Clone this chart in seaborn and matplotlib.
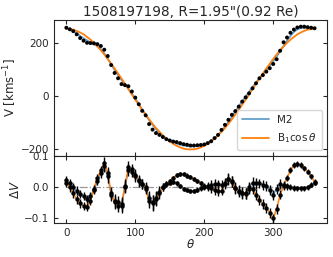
import numpy as np
import pandas as pd
import matplotlib
matplotlib.use("Agg")
import matplotlib.pyplot as plt
import seaborn as sns

# position angle grid (deg)
theta = [0, 5, 10, 15, 20, 25, 30, 35, 40, 45,
         50, 55, 60, 65, 70, 75, 80, 85, 90, 95,
         100, 105, 110, 115, 120, 125, 130, 135, 140, 145,
         150, 155, 160, 165, 170, 175, 180, 185, 190, 195,
         200, 205, 210, 215, 220, 225, 230, 235, 240, 245,
         250, 255, 260, 265, 270, 275, 280, 285, 290, 295,
         300, 305, 310, 315, 320, 325, 330, 335, 340, 345,
         350, 355, 360]

# observed velocity along the ring
v_obs = [259, 253, 246, 234, 220, 210, 202, 201, 200, 197,
         190, 176, 152, 118, 88, 68, 46, 42, 38, 18,
         -5, -30, -55, -72, -105, -126, -139, -146, -154, -162,
         -167, -171, -173, -177, -181, -183, -186, -186, -185, -184,
         -182, -177, -170, -158, -146, -127, -108, -89, -70, -56,
         -39, -20, -4, 11, 30, 49, 68, 80, 93, 106,
         122, 140, 172, 204, 222, 240, 252, 260, 263, 263,
         261, 259, 257]

# model curves
v_m2 = [257, 252, 246, 238, 228, 219, 211, 204, 197, 189,
        178, 162, 142, 120, 99, 80, 62, 45, 28, 10,
        -9, -29, -50, -70, -90, -108, -124, -138, -150, -160,
        -168, -174, -179, -183, -186, -188, -189, -189, -188, -186,
        -182, -176, -168, -158, -146, -131, -115, -97, -78, -58,
        -38, -19, -1, 17, 35, 52, 68, 84, 99, 115,
        132, 150, 170, 190, 210, 228, 243, 253, 258, 259,
        259, 258, 257]

v_b1 = [255, 254, 252, 247, 241, 234, 224, 214, 202, 188,
        174, 158, 141, 123, 105, 86, 67, 47, 27, 7,
        -13, -32, -51, -69, -87, -104, -120, -134, -148, -160,
        -170, -180, -187, -193, -198, -200, -201, -200, -198, -193,
        -187, -180, -170, -160, -148, -134, -120, -104, -87, -69,
        -51, -32, -13, 7, 27, 47, 67, 86, 105, 123,
        141, 158, 174, 188, 202, 214, 224, 234, 241, 247,
        252, 254, 255]

# residuals
dv_m2 = [0.023, 0.012, 0.0, -0.012, -0.022, -0.03, -0.038, -0.03, -0.01, 0.02,
         0.045, 0.068, 0.035, -0.025, -0.045, -0.05, -0.055, 0.0, 0.055, 0.05,
         0.035, 0.02, 0.01, 0.0, -0.035, -0.05, -0.035, -0.015, 0.0, 0.01,
         0.015, 0.017, 0.012, 0.003, -0.005, -0.01, -0.013, -0.012, -0.008, -0.003,
         0.0, 0.003, 0.007, 0.01, 0.009, 0.007, 0.015, 0.025, 0.02, -0.002,
         -0.012, -0.018, -0.02, 0.0, 0.015, 0.012, 0.012, 0.008, 0.004, -0.01,
         -0.025, -0.005, 0.01, 0.006, 0.003, 0.0, -0.002, -0.004, -0.004, -0.003,
         0.0, 0.008, 0.015]

dv_b1 = [0.015, 0.0, -0.02, -0.04, -0.053, -0.062, -0.064, -0.045, -0.005, 0.03,
         0.055, 0.08, 0.045, -0.02, -0.05, -0.06, -0.062, 0.005, 0.065, 0.058,
         0.04, 0.022, 0.01, -0.005, -0.045, -0.052, -0.038, -0.02, 0.0, 0.01,
         0.02, 0.03, 0.04, 0.043, 0.042, 0.038, 0.032, 0.027, 0.02, 0.012,
         0.005, 0.0, -0.004, -0.009, -0.014, -0.012, 0.01, 0.027, 0.018, -0.003,
         -0.015, -0.02, -0.022, -0.005, -0.005, -0.025, -0.043, -0.055, -0.068, -0.083,
         -0.102, -0.07, -0.025, 0.005, 0.03, 0.055, 0.072, 0.076, 0.073, 0.062,
         0.05, 0.035, 0.018]

dv_err = [0.015, 0.015, 0.015, 0.015, 0.014, 0.013, 0.013, 0.013, 0.013, 0.013,
          0.015, 0.018, 0.02, 0.02, 0.022, 0.022, 0.022, 0.02, 0.02, 0.018,
          0.018, 0.018, 0.016, 0.018, 0.024, 0.026, 0.022, 0.018, 0.013, 0.01,
          0.008, 0.007, 0.007, 0.007, 0.007, 0.007, 0.007, 0.007, 0.007, 0.008,
          0.01, 0.013, 0.015, 0.015, 0.015, 0.015, 0.015, 0.018, 0.018, 0.018,
          0.018, 0.018, 0.018, 0.018, 0.018, 0.018, 0.016, 0.016, 0.016, 0.016,
          0.016, 0.016, 0.015, 0.013, 0.011, 0.01, 0.01, 0.009, 0.009, 0.008,
          0.008, 0.008, 0.008]

df = pd.DataFrame({"theta": theta, "v": v_obs, "m2": v_m2, "b1": v_b1,
                   "dm2": dv_m2, "db1": dv_b1, "err": dv_err})

sns.set_style("ticks")
plt.rcParams.update({
    "xtick.direction": "in", "ytick.direction": "in",
    "xtick.top": True, "ytick.right": True,
    "xtick.labelsize": 7.5, "ytick.labelsize": 7.5,
    "font.family": ["DejaVu Sans"],
})

c_m2 = "#1f77b4"
c_b1 = "#ff7f0e"

fig = plt.figure(figsize=(3.33, 2.57), dpi=100)
gs = fig.add_gridspec(2, 1, height_ratios=[2, 1], hspace=0,
                      left=0.162, right=0.982, top=0.922, bottom=0.131)
ax = fig.add_subplot(gs[0])
axr = fig.add_subplot(gs[1], sharex=ax)

# top: velocity profile
sns.lineplot(data=df, x="theta", y="m2", ax=ax, color=c_m2, alpha=0.7, lw=1.3, label="M2")
sns.lineplot(data=df, x="theta", y="b1", ax=ax, color=c_b1, lw=1.3, label=r"B$_1$cos$\,\theta$")
sns.scatterplot(data=df, x="theta", y="v", ax=ax, color="k", s=8, edgecolor="none", zorder=3)
ax.set_ylim(-224, 288)
ax.set_yticks([-200, 0, 200])
ax.set_ylabel(r"V [kms$^{-1}$]", fontsize=8.5, labelpad=1)
ax.set_xlabel("")
ax.tick_params(labelbottom=False, length=3)
ax.set_title('1508197198, R=1.95"(0.92 Re)', fontsize=9.8, pad=3)
ax.legend(loc="lower right", fontsize=7.5, handlelength=2.6, borderpad=0.5, labelspacing=0.6)

# bottom: residuals
axr.plot([theta[0], theta[-1]], [0, 0], color="gray", ls="-.", lw=0.9, alpha=0.8)
sns.lineplot(data=df, x="theta", y="dm2", ax=axr, color=c_m2, alpha=0.7, lw=1.1)
sns.lineplot(data=df, x="theta", y="db1", ax=axr, color=c_b1, lw=1.1)
for col in ["dm2", "db1"]:
    axr.errorbar(df["theta"], df[col], yerr=df["err"], fmt="o", ms=2.2, color="k",
                 elinewidth=1.0, capsize=0, zorder=3)
axr.set_ylim(-0.118, 0.103)
axr.set_yticks([-0.1, 0.0, 0.1])
axr.set_ylabel(r"$\Delta V$", fontsize=8.5, labelpad=1)
axr.set_xlabel(r"$\theta$", fontsize=8.5, labelpad=0)
axr.set_xticks([0, 100, 200, 300])
axr.tick_params(length=3)
ax.set_xlim(-18, 378)

plt.savefig("out.png", dpi=100)
